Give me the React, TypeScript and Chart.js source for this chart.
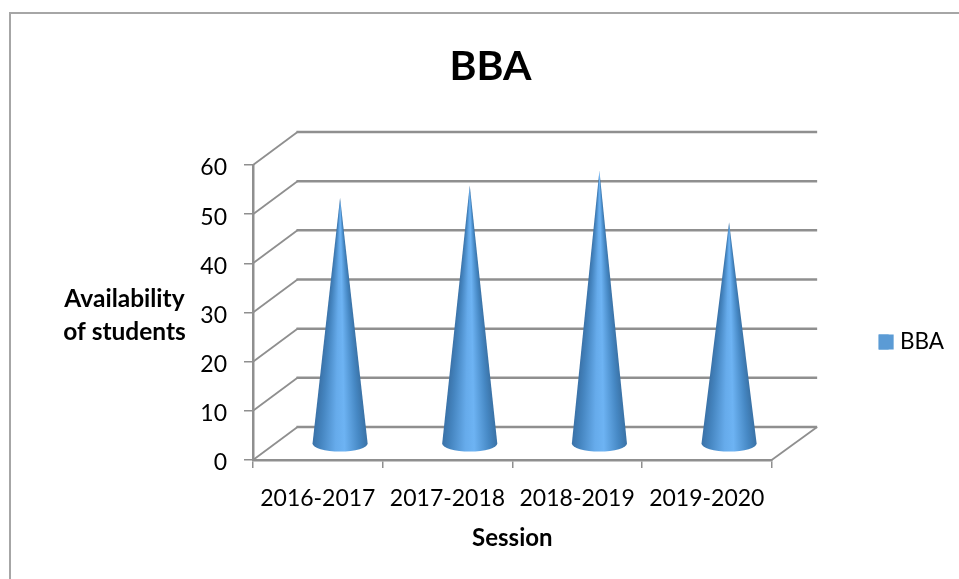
import React, { useEffect, useRef } from "react";
import { Chart, registerables } from "chart.js";

Chart.register(...registerables);

const categories = ["2016-2017", "2017-2018", "2018-2019", "2019-2020"];
const seriesName = "BBA";
const seriesValues = [50, 52.5, 55.5, 45];
const chartTitle = "BBA";
const xTitle = "Session";
const yTitleLines = ["Availability", "of students"];

const FONT = "Lato, sans-serif";
const GRID = "#8f8f8f";
const DX = 44.5;
const DY = 33;

const conePlugin = {
  id: "cones",
  afterLayout(chart: any) {
    const lg = chart.legend;
    const shift = 342 - (lg.top + lg.bottom) / 2;
    lg.top += shift;
    lg.bottom += shift;
  },
  beforeDatasetsDraw(chart: any) {
    const { ctx, scales } = chart;
    const y = scales.y;
    const left = scales.x.left;
    const right = scales.x.right;
    ctx.save();
    ctx.strokeStyle = GRID;
    y.ticks.forEach((t: any) => {
      const py = y.getPixelForValue(t.value);
      ctx.lineWidth = 1.8;
      ctx.beginPath();
      ctx.moveTo(left, py);
      ctx.lineTo(left + DX, py - DY);
      ctx.stroke();
      ctx.lineWidth = 2.5;
      ctx.beginPath();
      ctx.moveTo(left + DX - 1, py - DY);
      ctx.lineTo(right + DX + 1, py - DY);
      ctx.stroke();
    });
    const py0 = y.getPixelForValue(0);
    ctx.lineWidth = 1.8;
    ctx.beginPath();
    ctx.moveTo(right, py0);
    ctx.lineTo(right + DX + 1, py0 - DY);
    ctx.stroke();
    ctx.restore();
  },
  beforeDatasetDraw(chart: any, args: any) {
    const { ctx } = chart;
    const meta = args.meta;
    const base = chart.scales.y.getPixelForValue(0) - DY / 2;
    meta.data.forEach((el: any) => {
      const cx = el.x + DX / 2;
      const tip = el.y - DY / 2;
      const r = el.width / 2;
      const ry = 8;
      const a = Math.atan2(r, base - tip);
      const t0 = (Math.PI / 2 - a) / (2 * Math.PI);
      const t1 = (Math.PI / 2 + a) / (2 * Math.PI);
      const g = ctx.createConicGradient(0, cx, tip);
      const at = (f: number) => t0 + (t1 - t0) * f;
      // conic angle grows clockwise: t0 is the right edge of the cone
      g.addColorStop(at(0), "#3a72a6");
      g.addColorStop(at(0.15), "#4688c4");
      g.addColorStop(at(0.42), "#6db3f3");
      g.addColorStop(at(0.58), "#66abeb");
      g.addColorStop(at(0.85), "#4585c0");
      g.addColorStop(at(1), "#3a72a8");
      ctx.save();
      ctx.fillStyle = g;
      ctx.beginPath();
      ctx.moveTo(cx, tip);
      ctx.lineTo(cx - r, base);
      ctx.ellipse(cx, base, r, ry, 0, Math.PI, 0, true);
      ctx.closePath();
      ctx.fill();
      ctx.restore();
    });
    return false;
  },
  afterDraw(chart: any) {
    const { ctx, legend } = chart;
    ctx.save();
    // chart frame, open on the right and bottom
    ctx.strokeStyle = "#a6a6a6";
    ctx.lineWidth = 2;
    ctx.beginPath();
    ctx.moveTo(10, 579);
    ctx.lineTo(10, 13);
    ctx.lineTo(959, 13);
    ctx.stroke();
    // horizontal y-axis title
    ctx.fillStyle = "#000";
    ctx.font = `bold 24.5px ${FONT}`;
    ctx.textAlign = "center";
    ctx.textBaseline = "middle";
    yTitleLines.forEach((line, i) => ctx.fillText(line, 124.5, 299 + i * 33));
    // legend swatch is wider than its text gap allows
    const hit = legend.legendHitBoxes[0];
    ctx.fillStyle = "#5b9bd5";
    ctx.fillRect(hit.left, hit.top + hit.height / 2 - 7.5, 15, 15);
    ctx.restore();
  },
};

export default function App() {
  const ref = useRef<HTMLCanvasElement>(null);
  useEffect(() => {
    const chart = new Chart(ref.current as HTMLCanvasElement, {
      type: "bar",
      data: {
        labels: categories,
        datasets: [
          {
            label: seriesName,
            data: seriesValues,
            backgroundColor: "#5b9bd5",
            barPercentage: 0.425,
            categoryPercentage: 1,
          },
        ],
      },
      plugins: [conePlugin],
      options: {
        responsive: false,
        animation: false,
        devicePixelRatio: 1,
        layout: { padding: { left: 27, right: 5, top: 0, bottom: 0 } },
        plugins: {
          tooltip: { enabled: false },
          title: {
            display: true,
            text: chartTitle,
            color: "#000",
            font: { family: FONT, size: 41, weight: "bold", lineHeight: 1 },
            padding: { top: 46, bottom: 78 },
          },
          legend: {
            display: true,
            position: "right",
            labels: {
              boxWidth: 10,
              boxHeight: 15,
              color: "#000",
              padding: 8,
              font: { family: FONT, size: 22.5 },
            },
          },
        },
        scales: {
          x: {
            afterFit(s: any) {
              s.height = 119;
            },
            grid: { drawOnChartArea: false, color: GRID, lineWidth: 1.5, tickLength: 8, offset: true },
            border: { color: GRID, width: 2.5 },
            ticks: {
              color: "#000",
              padding: 17,
              maxRotation: 0,
              autoSkip: false,
              font: { family: FONT, size: 23 },
            },
            title: {
              display: true,
              text: xTitle,
              color: "#000",
              font: { family: FONT, size: 24, weight: "bold" },
              padding: { top: 0, bottom: 26 },
            },
          },
          y: {
            min: 0,
            max: 60,
            afterFit(s: any) {
              s.width = 226;
            },
            grid: { drawOnChartArea: false, color: GRID, lineWidth: 1.5, tickLength: 9 },
            border: { color: GRID, width: 2.5 },
            ticks: {
              stepSize: 10,
              color: "#000",
              padding: 17,
              labelOffset: 3,
              font: { family: FONT, size: 23 },
            },
          },
          spacer: {
            axis: "y",
            position: "right",
            display: true,
            afterFit(s: any) {
              s.width = 99;
            },
            grid: { display: false },
            border: { display: false },
            ticks: { display: false },
          },
        },
      } as any,
    });
    return () => chart.destroy();
  }, []);
  return (
    <div style={{ position: "absolute", left: 0, top: 0, width: 959, height: 579, background: "#fff" }}>
      <canvas ref={ref} width={959} height={579} style={{ display: "block" }} />
    </div>
  );
}
